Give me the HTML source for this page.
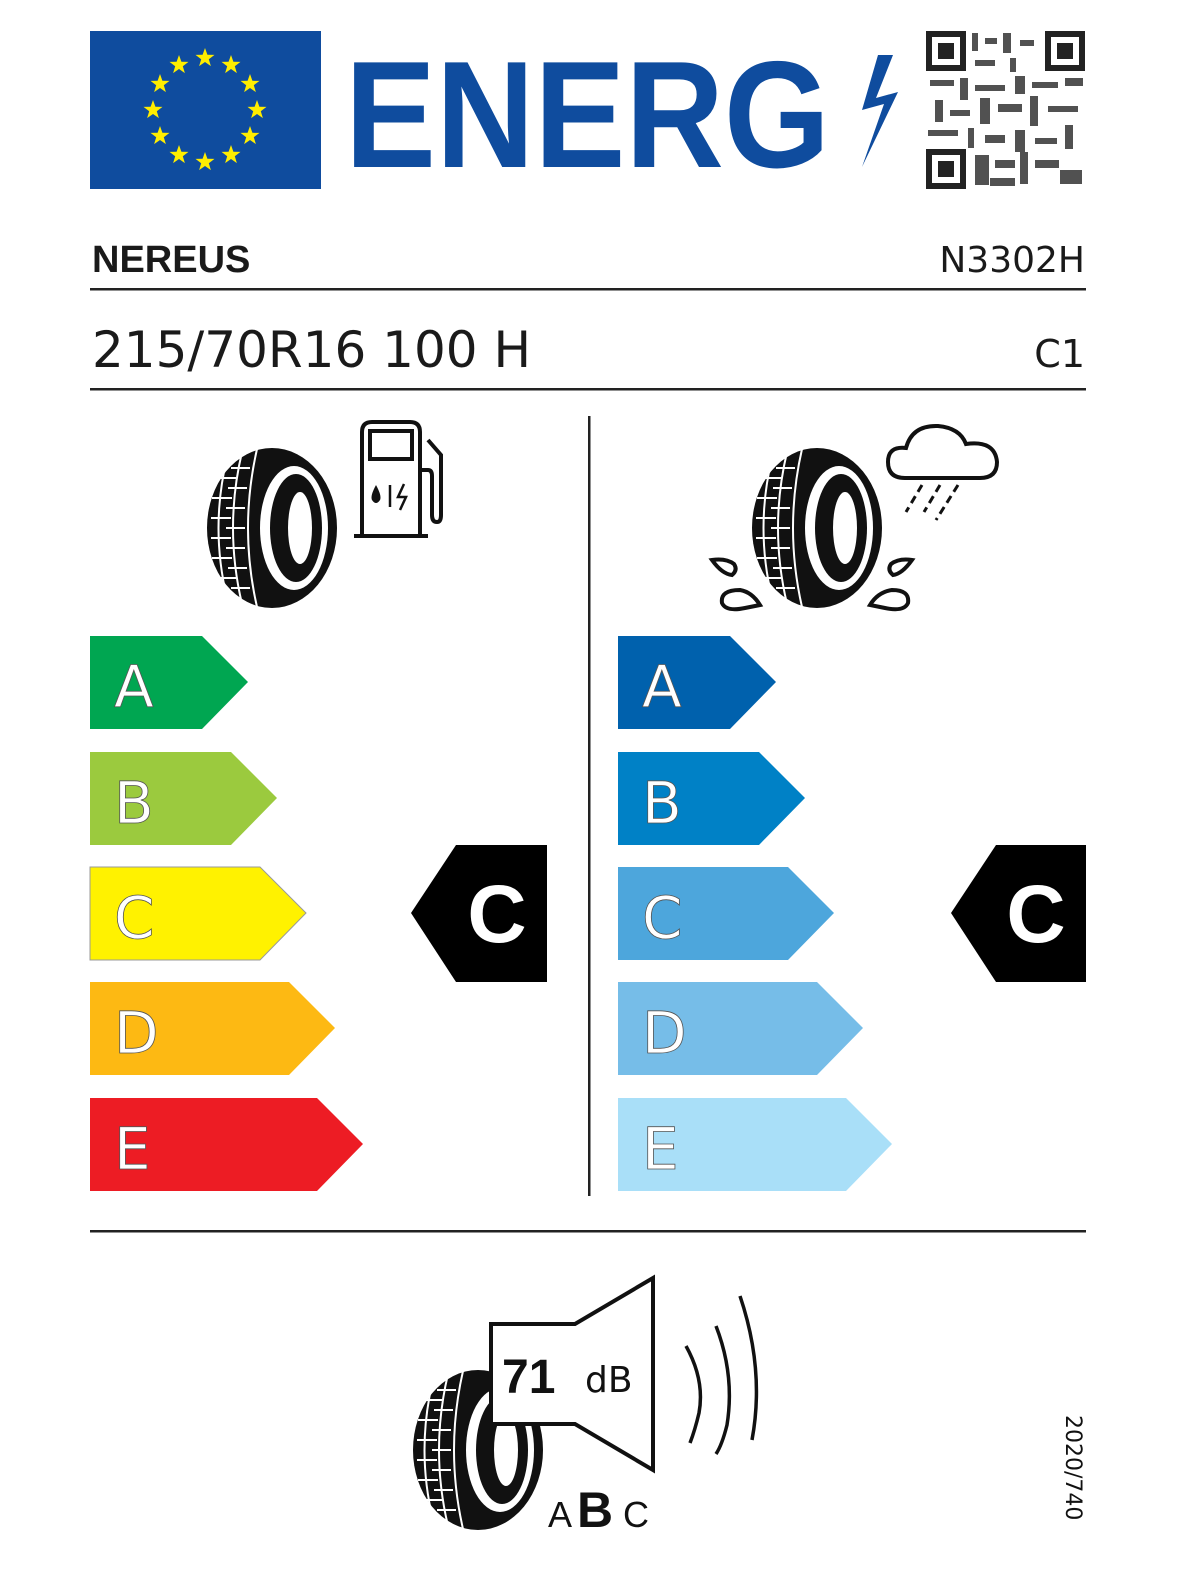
<!DOCTYPE html>
<html><head><meta charset="utf-8"><style>
html,body{margin:0;padding:0;background:#fff;overflow:hidden;width:1200px;height:1596px;}
body{position:relative;font-family:"Liberation Sans","DejaVu Sans",sans-serif;}
svg{display:block;position:absolute;left:0;top:0;}
</style></head><body>
<svg width="1200" height="1596" viewBox="0 0 1200 1596" xmlns="http://www.w3.org/2000/svg">
<defs>
<g id="star"><polygon points="0,-10 2.4,-3.2 9.5,-3.1 3.8,1.2 5.9,8.1 0,4 -5.9,8.1 -3.8,1.2 -9.5,-3.1 -2.4,-3.2" fill="#ffed00"/></g>
<g id="tyre">
<ellipse cx="0" cy="0" rx="65" ry="80" fill="#111"/>
<g stroke="#fff" stroke-width="2" fill="none">
<path d="M-45,-70 Q-62,0 -45,70"/><path d="M-30,-76 Q-48,0 -30,76"/><path d="M-15,-79 Q-33,0 -15,79"/>
<path d="M-56,-50 L-36,-50 M-60,-30 L-40,-30 M-61,-10 L-41,-10 M-61,10 L-41,10 M-60,30 L-40,30 M-56,50 L-36,50"/>
<path d="M-41,-60 L-22,-60 M-44,-40 L-25,-40 M-46,-20 L-27,-20 M-46,0 L-27,0 M-46,20 L-27,20 M-44,40 L-25,40 M-41,60 L-22,60"/>
</g>
<ellipse cx="22" cy="0" rx="34" ry="62" fill="#fff"/>
<ellipse cx="24" cy="0" rx="26" ry="54" fill="#111"/>
<ellipse cx="28" cy="0" rx="12" ry="36" fill="#fff"/>
</g>
</defs>
<rect x="90" y="31" width="231" height="158" fill="#0f4c9e"/>
<g transform="translate(205,110)">
<use href="#star" transform="translate(0,-52)"/><use href="#star" transform="translate(26,-45)"/><use href="#star" transform="translate(45,-26)"/><use href="#star" transform="translate(52,0)"/><use href="#star" transform="translate(45,26)"/><use href="#star" transform="translate(26,45)"/><use href="#star" transform="translate(0,52)"/><use href="#star" transform="translate(-26,45)"/><use href="#star" transform="translate(-45,26)"/><use href="#star" transform="translate(-52,0)"/><use href="#star" transform="translate(-45,-26)"/><use href="#star" transform="translate(-26,-45)"/>
</g>
<text x="345" y="167" font-family="Liberation Sans" font-weight="bold" font-size="152" fill="#0f4c9e" textLength="485" lengthAdjust="spacingAndGlyphs">ENERG</text>
<polygon points="878,55 862,110 884,104 862,167 898,92 876,98 893,55" fill="#0f4c9e"/>
<rect x="926" y="31" width="159" height="158" fill="#fff"/>
<g fill="#222">
<rect x="926" y="31" width="40" height="40"/><rect x="932" y="37" width="28" height="28" fill="#fff"/><rect x="938" y="43" width="16" height="16"/>
<rect x="1045" y="31" width="40" height="40"/><rect x="1051" y="37" width="28" height="28" fill="#fff"/><rect x="1057" y="43" width="16" height="16"/>
<rect x="926" y="149" width="40" height="40"/><rect x="932" y="155" width="28" height="28" fill="#fff"/><rect x="938" y="161" width="16" height="16"/>
</g>
<g fill="#333" opacity="0.85">
<rect x="972" y="33" width="6" height="18"/><rect x="985" y="38" width="12" height="6"/><rect x="1003" y="33" width="8" height="20"/><rect x="1020" y="40" width="14" height="6"/><rect x="975" y="60" width="20" height="6"/><rect x="1010" y="58" width="6" height="14"/>
<rect x="930" y="80" width="24" height="6"/><rect x="960" y="78" width="8" height="22"/><rect x="975" y="85" width="30" height="6"/><rect x="1015" y="76" width="10" height="18"/><rect x="1032" y="82" width="26" height="6"/><rect x="1065" y="78" width="18" height="8"/>
<rect x="935" y="100" width="8" height="22"/><rect x="950" y="110" width="20" height="6"/><rect x="980" y="98" width="10" height="26"/><rect x="998" y="104" width="24" height="8"/><rect x="1030" y="96" width="8" height="30"/><rect x="1048" y="106" width="30" height="6"/>
<rect x="928" y="130" width="30" height="6"/><rect x="968" y="128" width="6" height="20"/><rect x="985" y="135" width="20" height="8"/><rect x="1015" y="130" width="10" height="22"/><rect x="1035" y="138" width="22" height="6"/><rect x="1065" y="125" width="8" height="24"/>
<rect x="975" y="155" width="14" height="30"/><rect x="995" y="160" width="20" height="8"/><rect x="1020" y="152" width="8" height="32"/><rect x="1035" y="160" width="24" height="8"/><rect x="1060" y="170" width="22" height="14"/><rect x="990" y="178" width="25" height="8"/>
</g>
<text x="92" y="272" font-weight="bold" font-size="38" fill="#1a1a1a">NEREUS</text>
<text x="1085" y="272" text-anchor="end" font-family="DejaVu Sans" font-size="36" fill="#1a1a1a">N3302H</text>
<rect x="90" y="288" width="996" height="2.5" fill="#222"/>
<text x="92" y="367" font-family="DejaVu Sans" font-size="50" fill="#1a1a1a">215/70R16 100 H</text>
<text x="1085" y="367" text-anchor="end" font-family="DejaVu Sans" font-size="38" fill="#1a1a1a">C1</text>
<rect x="90" y="388" width="996" height="2.5" fill="#222"/>
<rect x="588" y="416" width="2.5" height="780" fill="#222"/>
<use href="#tyre" transform="translate(272,528)"/>
<g fill="none" stroke="#111" stroke-width="4">
<path d="M362,536 L362,432 Q362,422 372,422 L410,422 Q420,422 420,432 L420,536"/>
<rect x="370" y="431" width="42" height="28"/>
<path d="M354,536 L428,536"/>
<path d="M420,470 L428,470 Q432,470 432,476 L432,515 Q432,522 437,522 Q441,522 441,515 L441,455 L428,440"/>
</g>
<path d="M376,485 Q370,496 372,500 Q376,506 380,500 Q382,496 376,485Z" fill="#111"/>
<path d="M390,485 L390,507" stroke="#111" stroke-width="2.5"/>
<path d="M404,484 L398,497 L406,497 L400,510" stroke="#111" stroke-width="2.5" fill="none"/>
<use href="#tyre" transform="translate(817,528)"/>
<path d="M905,478 Q888,478 888,462 Q888,446 906,448 Q912,425 938,426 Q960,428 966,444 Q995,440 997,462 Q997,478 980,478 Z" fill="#fff" stroke="#111" stroke-width="4"/>
<g stroke="#111" stroke-width="3" stroke-dasharray="8,5">
<path d="M922,485 L906,512"/><path d="M940,485 L924,512"/><path d="M958,485 L936,520"/>
</g>
<g fill="none" stroke="#111" stroke-width="4">
<path d="M740,590 Q720,590 722,603 Q726,612 745,608 L760,605 Q752,592 740,590Z"/>
<path d="M712,560 Q722,574 732,575 Q738,570 734,564 Q726,558 712,560Z"/>
<path d="M892,590 Q910,590 908,603 Q904,612 885,608 L870,605 Q878,592 892,590Z"/>
<path d="M912,560 Q902,574 893,575 Q887,570 891,564 Q899,558 912,560Z"/>
</g>
<g font-family="DejaVu Sans" font-size="58" fill="#fff" stroke="#555" stroke-width="0.8">
<polygon points="90,636 202,636 248,682 202,729 90,729" fill="#00a651" stroke="none"/>
<polygon points="90,752 231,752 277,798 231,845 90,845" fill="#9bca3e" stroke="none"/>
<polygon points="90,867 260,867 306,913 260,960 90,960" fill="#fff200" stroke="#999" stroke-width="1"/>
<polygon points="90,982 289,982 335,1028 289,1075 90,1075" fill="#fdb913" stroke="none"/>
<polygon points="90,1098 317,1098 363,1144 317,1191 90,1191" fill="#ed1c24" stroke="none"/>
<text x="114" y="707">A</text><text x="114" y="823">B</text><text x="114" y="938">C</text><text x="114" y="1053">D</text><text x="114" y="1169">E</text>
<polygon points="618,636 730,636 776,682 730,729 618,729" fill="#0061ad" stroke="none"/>
<polygon points="618,752 759,752 805,798 759,845 618,845" fill="#0081c6" stroke="none"/>
<polygon points="618,867 788,867 834,913 788,960 618,960" fill="#4da6dc" stroke="none"/>
<polygon points="618,982 817,982 863,1028 817,1075 618,1075" fill="#76bde8" stroke="none"/>
<polygon points="618,1098 846,1098 892,1144 846,1191 618,1191" fill="#a9dff8" stroke="none"/>
<text x="642" y="707">A</text><text x="642" y="823">B</text><text x="642" y="938">C</text><text x="642" y="1053">D</text><text x="642" y="1169">E</text>
</g>
<polygon points="411,913 456,845 547,845 547,982 456,982" fill="#000"/>
<polygon points="951,913 996,845 1086,845 1086,982 996,982" fill="#000"/>
<text x="497" y="942" text-anchor="middle" font-weight="bold" font-size="82" fill="#fff">C</text>
<text x="1036" y="942" text-anchor="middle" font-weight="bold" font-size="82" fill="#fff">C</text>
<rect x="90" y="1230" width="996" height="2.5" fill="#222"/>
<use href="#tyre" transform="translate(478,1450)"/>
<path d="M491,1348 L491,1424 L575,1424 L653,1470 L653,1278 L575,1324 L491,1324 Z" fill="#fff" stroke="#111" stroke-width="4"/>
<text x="502" y="1393" font-weight="bold" font-size="48" fill="#111">71</text>
<text x="585" y="1392" font-family="DejaVu Sans" font-size="36" fill="#111">dB</text>
<g fill="none" stroke="#111" stroke-width="3.5">
<path d="M686,1346 Q705,1380 699,1413 Q695,1430 690,1443"/>
<path d="M716,1326 Q735,1375 727,1425 Q722,1445 716,1454"/>
<path d="M740,1296 Q765,1370 752,1440"/>
</g>
<text x="548" y="1527" font-size="36" fill="#111">A</text>
<text x="577" y="1527" font-weight="bold" font-size="50" fill="#111">B</text>
<text x="623" y="1527" font-size="36" fill="#111">C</text>
<text transform="translate(1066,1415) rotate(90)" font-family="DejaVu Sans" font-size="22" fill="#111">2020/740</text>
</svg>
</body></html>
